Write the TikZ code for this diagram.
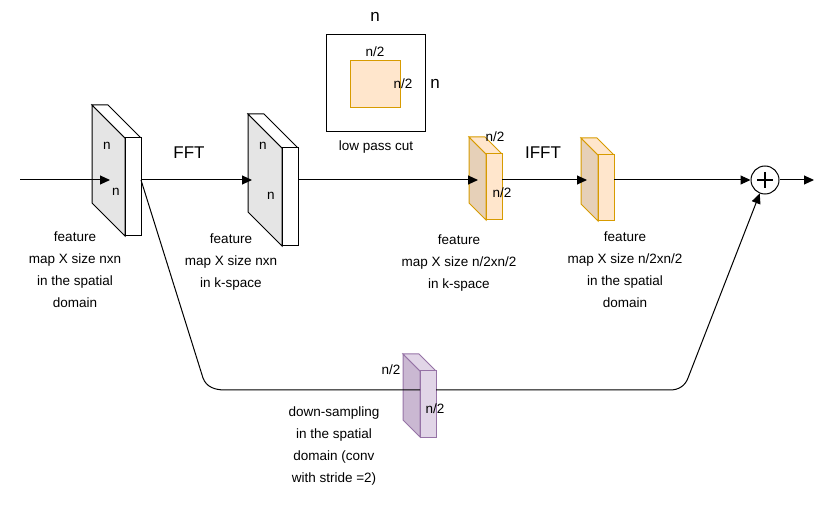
\documentclass[tikz,border=0pt]{standalone}
\usepackage{fontspec}
\setmainfont{Liberation Sans}
\usetikzlibrary{arrows.meta}
\definecolor{ostroke}{HTML}{D79B00}
\definecolor{ofill}{HTML}{FFE6CC}
\definecolor{oside}{HTML}{E6D0B8}
\definecolor{pstroke}{HTML}{9673A6}
\definecolor{pfill}{HTML}{E1D5E7}
\definecolor{pside}{HTML}{CAB8D2}
\tikzset{lbl/.style={font=\fontsize{13.5}{22}\selectfont,align=center},
 big/.style={font=\fontsize{17}{20}\selectfont},
 conn/.style={line width=1pt,-{Triangle[length=10pt,width=9pt]}},
 gray/.style={draw=black,line width=1pt},
 org/.style={draw=ostroke,line width=1pt},
 pur/.style={draw=pstroke,line width=1pt}}
\begin{document}
\begin{tikzpicture}[x=1pt,y=-1pt]
\useasboundingbox (0,0) rectangle (831,505);
\def\B#1#2#3#4#5#6#7#8{%
 \filldraw[#6,fill=#7] (#1,#2) -- ++(#3,#3) -- ++(0,#5) -- ++(-#3,-#3) -- cycle;
 \filldraw[#6,fill=#8] (#1,#2) -- ++(#4,0) -- ++(#3,#3) -- ++(-#4,0) -- cycle;
 \filldraw[#6,fill=#8] (#1+#3,#2+#3) rectangle ++(#4,#5);}
% blocks
\B{92}{105}{33}{16}{98}{gray}{black!10}{white}
\B{248}{114}{34}{16}{98}{gray}{black!10}{white}
\B{469}{137}{17}{16}{66}{org}{oside}{ofill}
\B{581}{138}{17}{16}{66}{org}{oside}{ofill}
\B{403}{354}{17}{16}{66}{pur}{pside}{pfill}
\coordinate (in) at (20,180);
\coordinate (a1) at (110,180); \coordinate (o1) at (141,180);
\coordinate (a2) at (252,180); \coordinate (o2) at (298,180);
\coordinate (a3) at (478,180); \coordinate (o3) at (502,180);
\coordinate (a4) at (587,180); \coordinate (o4) at (614,180);
\node[circle,draw,line width=1pt,minimum size=28pt,inner sep=0pt] (sum) at (765,180) {};
\draw[line width=1.8pt] (765,172)--(765,188) (757,180)--(773,180);
\coordinate (out) at (814,180);
\draw[conn] (in) -- (a1);
\draw[conn] (o1) -- (a2);
\draw[conn] (o2) -- (a3);
\draw[conn] (o3) -- (a4);
\draw[conn] (o4) -- (sum);
\draw[conn] (sum) -- (out);
\draw[conn] (o1) -- (203,378) to[out=-70,in=180] (225,390) -- (420,390) (436,390) -- (670,390) to[out=0,in=-110] (688,378) -- (sum);
% top box
\draw[line width=1pt] (326,35) rectangle (425,132);
\filldraw[org,fill=ofill] (350,61) rectangle (400,108);
\node[big] at (375,17) {n};
\node[big] at (435,84) {n};
\node[lbl] at (375,52) {n/2};
\node[lbl] at (403,84) {n/2};
\node[lbl] at (376,147) {low pass cut};
% block labels
\node[lbl] at (107,146) {n}; \node[lbl] at (116,192) {n};
\node[lbl] at (263,146) {n}; \node[lbl] at (271,196) {n};
\node[lbl] at (495,137) {n/2}; \node[lbl] at (502,193) {n/2};
\node[lbl] at (391,370) {n/2}; \node[lbl] at (435,409) {n/2};
\node[big] at (189,153) {FFT};
\node[big] at (543,153) {IFFT};
\node[lbl,anchor=north] at (75,228) {feature\\map X size nxn\\in the spatial\\domain};
\node[lbl,anchor=north] at (231,230) {feature\\map X size nxn\\in k-space};
\node[lbl,anchor=north] at (459,231) {feature\\map X size n/2xn/2\\in k-space};
\node[lbl,anchor=north] at (625,228) {feature\\map X size n/2xn/2\\in the spatial\\domain};
\node[lbl,anchor=north] at (334,403) {down-sampling\\in the spatial\\domain (conv\\with stride =2)};
\end{tikzpicture}
\end{document}
